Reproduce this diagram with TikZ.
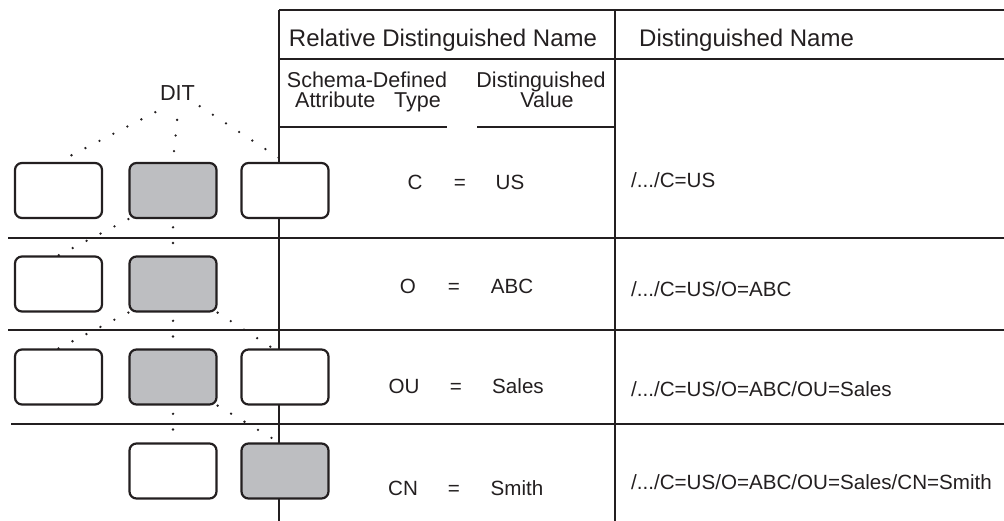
\documentclass[tikz,border=0pt]{standalone}
\usepackage{fontspec}
\setmainfont{Liberation Sans}
\definecolor{boxgray}{HTML}{BDBEC1}
\definecolor{ink}{HTML}{231F20}
\begin{document}
\begin{tikzpicture}[x=1pt,y=-1pt,
  tbl/.style={line width=2pt, draw=ink},
  dbox/.style={draw=ink, rounded corners=7pt, line width=2.2pt, minimum width=87pt, minimum height=55pt, fill=white, inner sep=0pt},
  gbox/.style={dbox, fill=boxgray},
  dotline/.style={line width=2.6pt, line cap=round, draw=ink, dash pattern=on 0pt off 15.7pt},
  dotmid/.style={dotline, dash phase=7.5pt},
  hdr/.style={inner sep=0pt, anchor=base, text=ink, font=\fontsize{24}{28}\selectfont},
  sub/.style={inner sep=0pt, anchor=base, text=ink, font=\fontsize{21.5}{20}\selectfont},
  cell/.style={inner sep=0pt, anchor=base, text=ink, font=\fontsize{20.6}{24}\selectfont},
  dn/.style={cell, anchor=base west}]
\useasboundingbox (0,0) rectangle (1004,521);
% table frame
\draw[tbl] (279,10) -- (1004,10);
\draw[tbl] (279,59) -- (1004,59);
\draw[tbl] (279,10) -- (279,521);
\draw[tbl] (615,10) -- (615,521);
\draw[tbl] (279,127) -- (447,127);
\draw[tbl] (477,127) -- (615,127);
\draw[tbl] (8,238) -- (1004,238);
\draw[tbl] (8,330) -- (1004,330);
\draw[tbl] (11,424) -- (1004,424);
% headers
\node[hdr] (rdn) at (443,46.6) {Relative Distinguished Name};
\node[hdr, anchor=base west] (dnh) at (639,46.6) {Distinguished Name};
\node[sub] (sch) at (367,87.5) {Schema-Defined};
\node[sub] (att) at (368,108) {Attribute\hspace{19pt}Type};
\node[sub] (dv1) at (541,87.5) {Distinguished};
\node[sub] (dv2) at (547,108) {Value};
% RDN cells
\node[cell] (r1a) at (415,189.5) {C};
\node[cell] (r1e) at (460,189.5) {=};
\node[cell] (r1v) at (510,189.5) {US};
\node[cell] (r2a) at (408,293.5) {O};
\node[cell] (r2e) at (454,293.5) {=};
\node[cell] (r2v) at (512,293.5) {ABC};
\node[cell] (r3a) at (404,393.5) {OU};
\node[cell] (r3e) at (456,393.5) {=};
\node[cell] (r3v) at (518,393.5) {Sales};
\node[cell] (r4a) at (403,495.5) {CN};
\node[cell] (r4e) at (454,495.5) {=};
\node[cell] (r4v) at (517,495.5) {Smith};
% DN cells
\node[dn] (d1) at (631,187.5) {/.../C=US};
\node[dn] (d2) at (631,296.5) {/.../C=US/O=ABC};
\node[dn] (d3) at (631,396.5) {/.../C=US/O=ABC/OU=Sales};
\node[dn] (d4) at (631,489.5) {/.../C=US/O=ABC/OU=Sales/CN=Smith};
% DIT
\node[text=ink, font=\fontsize{21.7}{24}\selectfont, minimum width=44pt, minimum height=38pt, inner sep=0pt] (dit) at (177.5,93) {DIT};
% boxes
\node[dbox] (b11) at (58.5,190.5) {};
\node[gbox] (b12) at (173,190.5) {};
\node[dbox] (b13) at (285,190.5) {};
\node[dbox] (b21) at (58.5,284) {};
\node[gbox] (b22) at (173,284) {};
\node[dbox] (b31) at (58.5,377) {};
\node[gbox] (b32) at (173,377) {};
\node[dbox] (b33) at (285,377) {};
\node[dbox] (b42) at (173,471) {};
\node[gbox] (b43) at (285,471) {};
% tree edges (dotted)
\draw[dotline] (dit.south west) -- (b11.north);
\draw[dotline, dash phase=12pt] ([yshift=-4pt]dit.south) -- (b12.north);
\draw[dotline] ([yshift=6pt]dit.south east) -- (b13.north);
\draw[dotline] (b12.south west) -- (b21.north);
\draw[dotmid] (b12.south) -- (b22.north);
\draw[dotline] (b22.south west) -- (b31.north);
\draw[dotmid] (b22.south) -- (b32.north);
\draw[dotline] (b22.south east) -- ([xshift=-12pt]b33.north);
\draw[dotmid] (b32.south) -- (b42.north);
\draw[dotline] (b32.south east) -- ([xshift=-6pt]b43.north);
\end{tikzpicture}
\end{document}
